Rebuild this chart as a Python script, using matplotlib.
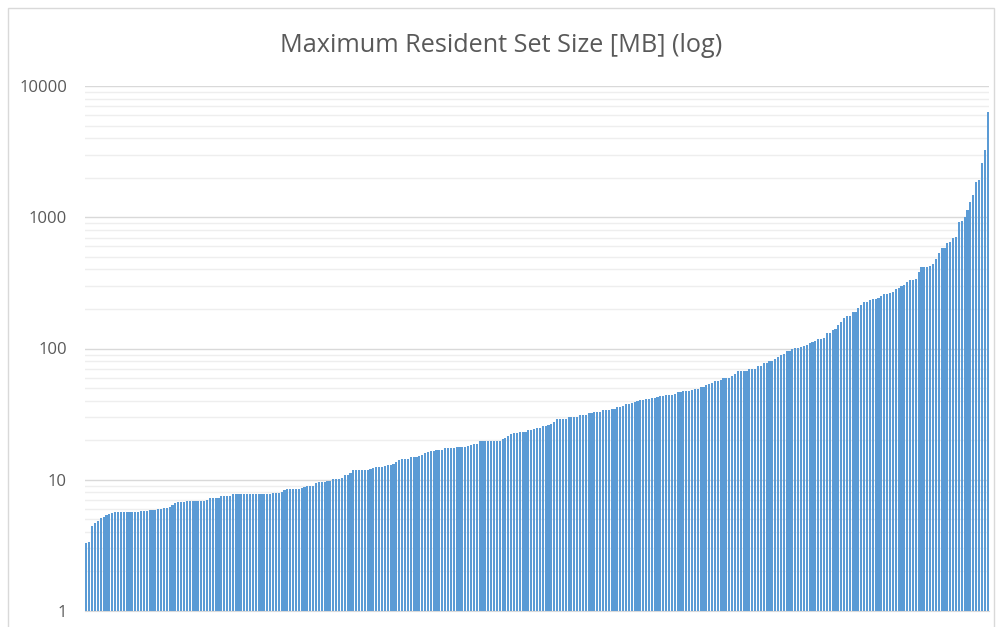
import matplotlib.pyplot as plt
from matplotlib.patches import Rectangle

# max resident set size per run, sorted ascending (MB)
rss_mb = [
    3.28, 3.37, 4.44, 4.70, 4.87, 5.08, 5.20, 5.36, 5.45, 5.57,
    5.67, 5.68, 5.68, 5.68, 5.68, 5.68, 5.68, 5.70, 5.72, 5.75,
    5.75, 5.78, 5.85, 5.85, 5.90, 5.97, 6.01, 6.12, 6.12, 6.17,
    6.38, 6.62, 6.72, 6.77, 6.77, 6.85, 6.85, 6.85, 6.88, 6.92,
    6.92, 6.92, 6.95, 7.21, 7.21, 7.26, 7.30, 7.48, 7.48, 7.48,
    7.50, 7.74, 7.74, 7.74, 7.74, 7.74, 7.74, 7.75, 7.76, 7.76,
    7.78, 7.80, 7.80, 7.82, 7.85, 7.87, 7.90, 7.95, 8.02, 8.30,
    8.45, 8.45, 8.47, 8.50, 8.55, 8.70, 8.80, 8.90, 9.00, 9.00,
    9.38, 9.67, 9.67, 9.67, 9.70, 9.70, 10.1, 10.1, 10.2, 10.4,
    10.8, 10.8, 11.2, 11.85, 11.85, 11.85, 11.85, 11.85, 11.9, 12.0,
    12.2, 12.5, 12.6, 12.6, 12.7, 13.0, 13.0, 13.2, 13.7, 14.1,
    14.4, 14.4, 14.5, 14.8, 14.8, 14.9, 15.2, 15.4, 15.9, 16.3,
    16.6, 16.7, 16.8, 16.8, 16.9, 17.5, 17.6, 17.6, 17.6, 17.7,
    17.8, 17.8, 17.9, 18.1, 18.5, 18.6, 18.8, 19.7, 19.7, 19.7,
    19.7, 19.7, 19.7, 19.8, 19.9, 20.6, 20.7, 21.6, 22.2, 22.8,
    22.9, 23.0, 23.0, 23.1, 23.9, 24.0, 24.5, 24.9, 24.9, 25.9,
    25.9, 26.2, 26.8, 27.6, 29.0, 29.0, 29.0, 29.0, 29.9, 29.9,
    29.9, 30.0, 30.9, 30.9, 30.9, 32.0, 32.0, 32.9, 32.9, 32.9,
    33.7, 33.7, 34.0, 34.7, 34.7, 36.0, 36.0, 36.5, 38.0, 38.0,
    38.5, 39.0, 39.5, 40.2, 40.5, 41.1, 41.5, 42.1, 42.1, 42.5,
    43.1, 43.5, 44.4, 44.4, 44.4, 45.0, 46.4, 47.0, 47.5, 47.5,
    47.5, 48.0, 49.4, 49.4, 50.5, 51.0, 52.4, 54.0, 55.0, 57.0,
    57.0, 58.0, 59.2, 59.2, 59.5, 62.0, 64.0, 66.8, 66.8, 67.0,
    67.5, 69.5, 69.5, 70.0, 74.0, 74.2, 77.5, 77.5, 79.9, 81.0,
    82.9, 85.5, 88.8, 91.0, 95.0, 95.1, 100, 100.6, 101, 103,
    104, 106.5, 111, 112, 114.7, 118, 118.4, 121, 131.8, 132,
    139.4, 140, 152, 159, 170, 176.7, 177, 189, 190, 205,
    214.6, 226, 228, 233, 240, 240, 242, 251, 262, 262,
    266, 269, 282, 290, 297, 305, 321, 334, 334, 336,
    384, 417, 417, 420, 425, 442, 477, 536, 582, 582,
    639, 645, 693, 713, 927, 935, 1000, 1143, 1300, 1479,
    1867, 1932, 2600, 3246, 6350,
]
runs = list(range(1, len(rss_mb) + 1))

y_ticks = [1, 10, 100, 1000, 10000]
y_labels = ["1", "10", "100", "1000", "10000"]
title = "Maximum Resident Set Size [MB] (log)"

grey_text = "#595959"

fig = plt.figure(figsize=(10.02, 6.27), dpi=100)
ax = fig.add_axes([85 / 1002, 16 / 627, 904 / 1002, 525 / 627])

ax.bar(runs, rss_mb, width=0.74, color="#5b9bd5", linewidth=0, zorder=3)

ax.set_yscale("log")
ax.set_ylim(1, 10000)
ax.set_xlim(0.5, len(rss_mb) + 0.5)

ax.set_yticks(y_ticks)
ax.set_yticklabels(y_labels)
ax.set_xticks([])
ax.tick_params(axis="y", length=0, pad=13, labelsize=12, labelcolor=grey_text)
for lbl in ax.get_yticklabels():
    lbl.set_fontfamily("Open Sans")

ax.grid(True, which="major", axis="y", color="#d9d9d9", linewidth=1.0, zorder=0)
ax.grid(True, which="minor", axis="y", color="#eeeeee", linewidth=1.0, zorder=0)
ax.tick_params(axis="y", which="minor", length=0)

for side in ["top", "right", "left"]:
    ax.spines[side].set_visible(False)
ax.spines["bottom"].set_color("#d9d9d9")

fig.text(0.5, 1 - 45 / 627, title, ha="center", va="center",
         fontsize=18.2, color=grey_text, family="Open Sans")

# light chart-area border like the spreadsheet export
fig.patches.append(Rectangle((8 / 1002, -0.05), 986 / 1002, 1.05 - 8 / 627,
                             transform=fig.transFigure, fill=False,
                             edgecolor="#d9d9d9", linewidth=1.0))

fig.savefig("out.png", dpi=100)
